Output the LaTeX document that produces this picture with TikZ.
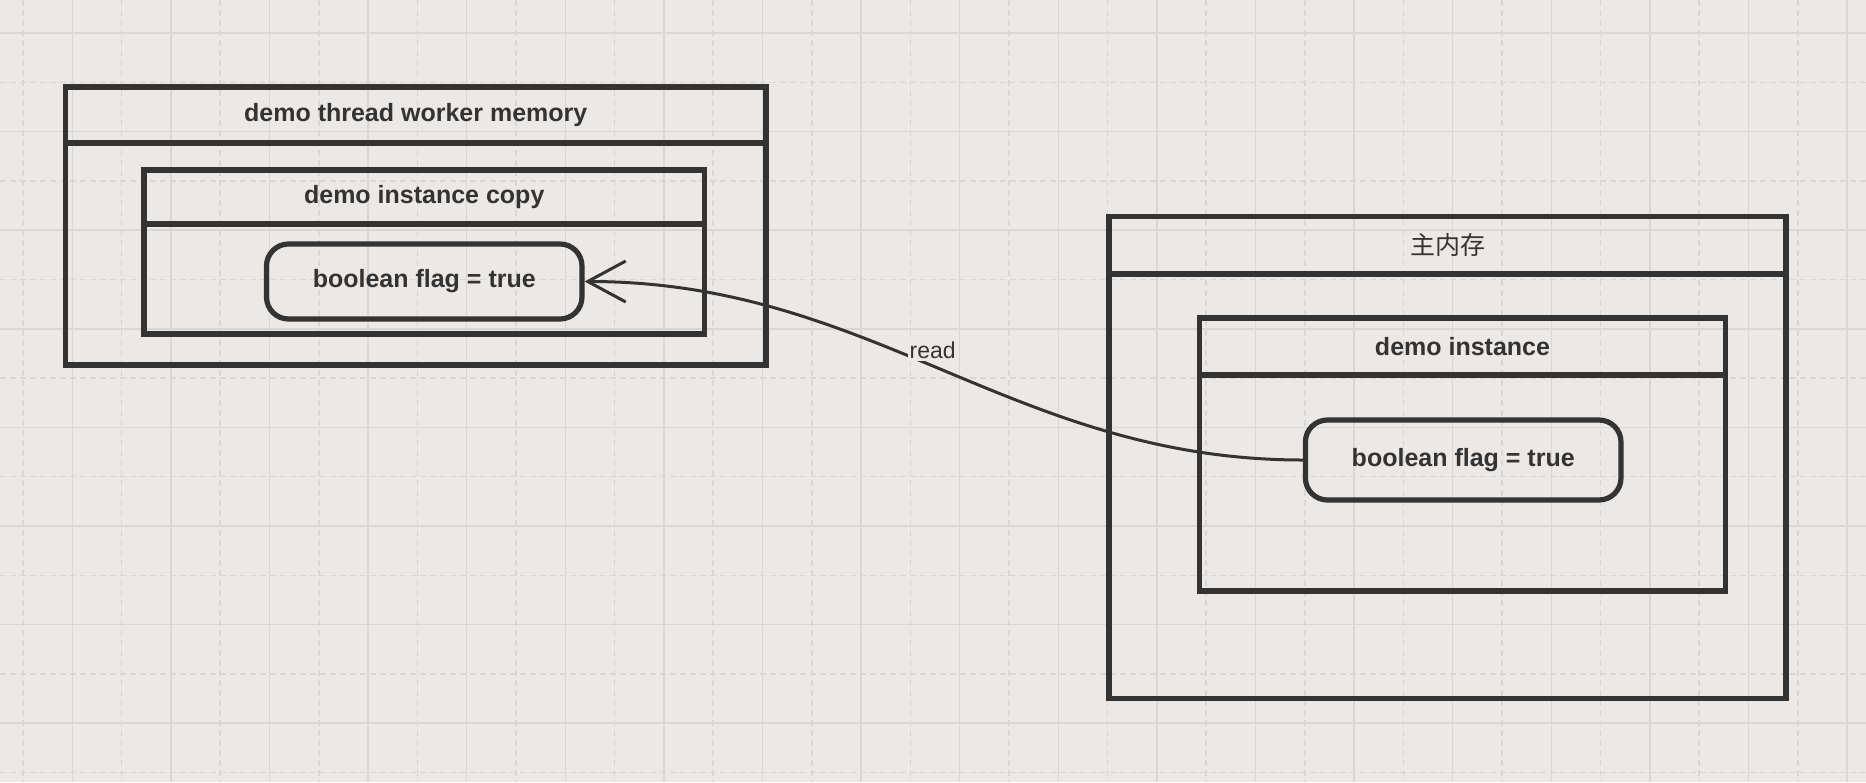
\documentclass[tikz,border=0pt]{standalone}
\usepackage{fontspec}
\setmainfont{Liberation Sans}
\newfontfamily\cjk{Noto Sans CJK SC}
\usetikzlibrary{arrows.meta}
\definecolor{bg}{HTML}{EBE8E5}
\definecolor{gridc}{HTML}{D9D6D3}
\definecolor{ink}{HTML}{333333}
\begin{document}
\begin{tikzpicture}[x=0.5pt,y=-0.5pt,
  frame/.style={draw=ink, line width=2.6pt, inner sep=0pt},
  roundbox/.style={frame, rounded corners=11pt},
  divider/.style={draw=ink, line width=2.6pt},
  title/.style={text=ink, font=\fontsize{12.5pt}{15pt}\selectfont\bfseries, inner sep=0pt},
  cjktitle/.style={text=ink, font=\cjk\fontsize{12.5pt}{15pt}\selectfont, inner sep=0pt},
  gridsolid/.style={draw=gridc, line width=0.75pt},
  griddash/.style={draw=gridc, line width=0.75pt, dash pattern=on 3pt off 2pt},
  conn/.style={draw=ink, line width=1.5pt},
  lbl/.style={text=ink, fill=bg, inner sep=1pt, font=\fontsize{11.5pt}{13pt}\selectfont}]
\useasboundingbox (0,0) rectangle (1866,782);
\fill[bg] (0,0) rectangle (1866,782);
% grid
\begin{scope}
\clip (0,0) rectangle (1866,782);
\foreach \k in {0,...,37} {
  \pgfmathsetmacro{\gx}{23+49.3*\k}
  \pgfmathtruncatemacro{\odd}{mod(\k,2)}
  \ifnum\odd=1
    \draw[gridsolid] (\gx,0) -- (\gx,782);
  \else
    \draw[griddash] (\gx,0) -- (\gx,782);
  \fi
}
\foreach \j in {0,...,15} {
  \pgfmathsetmacro{\gy}{33+49.3*\j}
  \pgfmathtruncatemacro{\odd}{mod(\j,2)}
  \ifnum\odd=0
    \draw[gridsolid] (0,\gy) -- (1866,\gy);
  \else
    \draw[griddash] (0,\gy) -- (1866,\gy);
  \fi
}
\end{scope}
% left: worker memory
\node[frame, minimum width=350.25pt, minimum height=139pt] (lo) at (415.75,226) {};
\draw[divider] (lo.west |- 0,143) -- (lo.east |- 0,143);
\node[title] (lot) at (415.75,115) {demo thread worker memory};
\node[frame, minimum width=280.25pt, minimum height=82pt] (li) at (424.25,252) {};
\draw[divider] (li.west |- 0,224) -- (li.east |- 0,224);
\node[title] (lit) at (424.25,197) {demo instance copy};
\node[roundbox, minimum width=157.75pt, minimum height=37.5pt] (lr) at (424.25,281.5) {};
\node[title] (lrt) at (lr.center) {boolean flag = true};
% right: main memory
\node[frame, minimum width=338.5pt, minimum height=241pt] (ro) at (1447.5,457.5) {};
\draw[divider] (ro.west |- 0,274) -- (ro.east |- 0,274);
\node[cjktitle] (rot) at (1447.5,245) {主内存};
\node[frame, minimum width=263pt, minimum height=136.5pt] (ri) at (1462.5,454.5) {};
\draw[divider] (ri.west |- 0,375) -- (ri.east |- 0,375);
\node[title] (rit) at (1462.5,346.5) {demo instance};
\node[roundbox, minimum width=157.8pt, minimum height=40pt] (rr) at (1463.2,460) {};
\node[title] (rrt) at (rr.center) {boolean flag = true};
% connector
\draw[conn, -{Straight Barb[length=19pt,width=20.5pt,line width=1.5pt]}]
  (rr.west) to[out=180,in=0]
  node[lbl, pos=0.5, xshift=-5.5pt, yshift=10pt] {read}
  (lr.east);
\end{tikzpicture}
\end{document}
